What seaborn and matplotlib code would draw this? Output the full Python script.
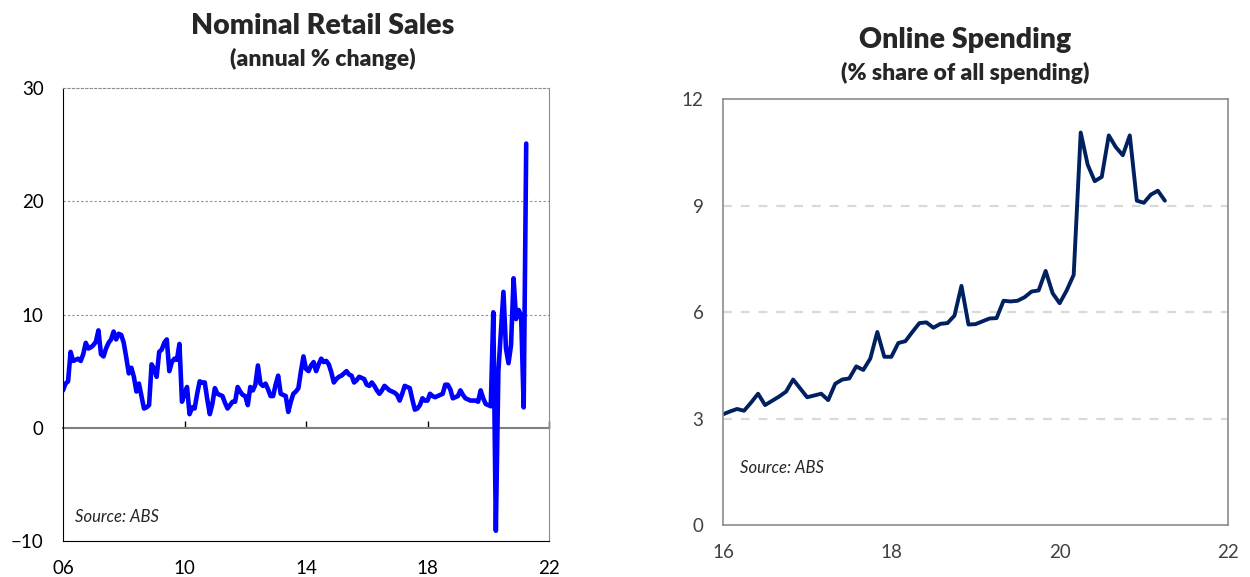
import numpy as np
import pandas as pd
import matplotlib
matplotlib.use("Agg")
import matplotlib.pyplot as plt
import seaborn as sns

# nominal retail sales, annual % change, monthly Jan 2006 - Apr 2021
retail_start = 2006
retail_pct = [
    3.3, 3.9, 4.1, 6.7, 5.9, 6.0, 6.1, 5.9, 6.5, 7.5, 7.0, 7.1,
    7.3, 7.6, 8.6, 6.5, 6.3, 7.0, 7.5, 7.8, 8.5, 7.8, 8.3, 8.2,
    7.5, 6.2, 4.8, 5.3, 4.5, 3.2, 3.9, 2.8, 1.7, 1.8, 2.0, 5.6,
    5.2, 4.5, 6.7, 6.9, 7.5, 7.8, 5.0, 5.8, 6.1, 6.0, 7.4, 2.3,
    3.0, 3.6, 1.2, 1.8, 1.7, 3.0, 4.1, 4.0, 4.0, 2.5, 1.2, 2.1,
    3.5, 3.0, 2.9, 2.8, 2.2, 1.7, 2.0, 2.3, 2.3, 3.6, 3.2, 2.9,
    2.8, 2.0, 3.6, 3.3, 3.8, 5.5, 3.9, 3.7, 3.9, 3.4, 2.8, 2.8,
    3.8, 4.6, 3.0, 2.9, 2.8, 1.4, 2.3, 3.0, 3.2, 3.5, 5.0, 6.3,
    5.2, 5.0, 5.5, 5.8, 5.0, 5.6, 6.1, 5.8, 5.9, 5.6, 4.9, 4.0,
    4.3, 4.5, 4.6, 4.8, 5.0, 4.7, 4.6, 4.0, 4.2, 4.5, 4.4, 4.3,
    3.8, 3.7, 4.0, 3.7, 3.3, 3.0, 3.3, 3.7, 3.5, 3.3, 3.2, 3.1,
    2.9, 2.4, 3.0, 3.7, 3.6, 3.5, 2.5, 1.6, 1.7, 2.0, 2.6, 2.4,
    2.4, 3.0, 2.8, 2.7, 2.8, 2.9, 3.0, 3.8, 3.8, 3.4, 2.6, 2.7,
    2.8, 3.3, 2.9, 2.6, 2.5, 2.4, 2.4, 2.4, 2.3, 3.3, 2.6, 2.1,
    2.0, 1.9, 10.2, -9.1, 5.0, 8.5, 12.0, 7.0, 5.7, 7.3, 13.2, 9.6,
    10.4, 9.9, 1.8, 25.1,
]

# online share of all spending (%), monthly Jan 2016 - Apr 2021
online_start = 2016
online_share = [
    3.12, 3.2, 3.27, 3.22, 3.45, 3.7, 3.38, 3.5, 3.62, 3.76, 4.1, 3.85,
    3.6, 3.65, 3.7, 3.52, 3.98, 4.1, 4.13, 4.47, 4.37, 4.69, 5.44, 4.74,
    4.74, 5.13, 5.18, 5.44, 5.69, 5.71, 5.56, 5.67, 5.69, 5.9, 6.74, 5.65,
    5.66, 5.74, 5.82, 5.83, 6.32, 6.3, 6.32, 6.42, 6.58, 6.61, 7.16, 6.53,
    6.25, 6.61, 7.05, 11.06, 10.15, 9.69, 9.81, 10.98, 10.65, 10.42, 10.98, 9.14,
    9.08, 9.31, 9.42, 9.14,
]

left_xticks = [2006, 2010, 2014, 2018, 2022]
right_xticks = [2016, 2018, 2020, 2022]

retail = pd.DataFrame({
    "year": retail_start + np.arange(len(retail_pct)) / 12,
    "pct": retail_pct,
})
online = pd.DataFrame({
    "year": online_start + np.arange(len(online_share)) / 12,
    "share": online_share,
})

sns.set_style("white")
plt.rcParams["font.family"] = ["Lato", "DejaVu Sans"]

fig = plt.figure(figsize=(12.5, 5.77), dpi=100)

# ---------- left panel ----------
ax1 = fig.add_axes([0.0504, 0.0624, 0.3888, 0.785])
sns.lineplot(data=retail, x="year", y="pct", ax=ax1, color="#0000FF", lw=3.3)
ax1.set_xlim(2006, 2022)
ax1.set_ylim(-10, 30)
ax1.set_yticks([-10, 0, 10, 20, 30])
ax1.set_xticks(left_xticks)
ax1.set_xticklabels([f"{t % 100:02d}" for t in left_xticks])
ax1.tick_params(axis="both", labelsize=13.5, colors="black", length=0)
ax1.tick_params(axis="x", pad=14)
ax1.tick_params(axis="y", pad=14)
ax1.set_xlabel("")
ax1.set_ylabel("")
for yv in [10, 20]:
    ax1.axhline(yv, color="#8c8c8c", lw=0.8, ls=(0, (2, 2)), zorder=0)
ax1.spines["top"].set_color("#8c8c8c")
ax1.spines["top"].set_linestyle((0, (2, 2)))
ax1.spines["top"].set_linewidth(0.8)
ax1.spines["right"].set_color("#8c8c8c")
ax1.spines["left"].set_color("black")
ax1.spines["bottom"].set_color("black")
# zero line with upward ticks
zero_ax = ax1.secondary_xaxis(0.25)
zero_ax.set_xticks(left_xticks[1:])
zero_ax.tick_params(direction="in", length=5, width=1, color="black", labelbottom=False)
zero_ax.spines["bottom"].set_color("#7f7f7f")
zero_ax.spines["bottom"].set_linewidth(1.5)
ax1.text(0.025, 0.035, "Source: ABS", transform=ax1.transAxes, fontsize=12,
         style="italic", ha="left", va="bottom")
fig.text(0.258, 0.955, "Nominal Retail Sales", ha="center", va="center",
         fontsize=20.5, fontweight="heavy")
fig.text(0.258, 0.898, "(annual % change)", ha="center", va="center",
         fontsize=16.5, fontweight="heavy")

# ---------- right panel ----------
ax2 = fig.add_axes([0.5784, 0.0901, 0.404, 0.738])
sns.lineplot(data=online, x="year", y="share", ax=ax2, color="#002060", lw=2.8)
ax2.set_xlim(2016, 2022)
ax2.set_ylim(0, 12)
ax2.set_yticks([0, 3, 6, 9, 12])
ax2.set_xticks(right_xticks)
ax2.set_xticklabels([f"{t % 100:02d}" for t in right_xticks])
ax2.tick_params(axis="y", labelsize=13.5, colors="#404040", length=0, pad=14)
ax2.tick_params(axis="x", labelsize=13.5, colors="#404040", length=4, direction="in",
                width=1, pad=14)
ax2.tick_params(axis="x", which="major", color="#7f7f7f")
ax2.set_xlabel("")
ax2.set_ylabel("")
for yv in [3, 6, 9]:
    ax2.axhline(yv, color="#d9d9d9", lw=1.6, ls=(0, (4, 4)), zorder=0)
for side in ["top", "right", "left", "bottom"]:
    ax2.spines[side].set_color("#8c8c8c")
    ax2.spines[side].set_linewidth(1.2)
ax2.text(0.034, 0.115, "Source: ABS", transform=ax2.transAxes, fontsize=12,
         style="italic", ha="left", va="bottom")
fig.text(0.772, 0.93, "Online Spending", ha="center", va="center",
         fontsize=20.5, fontweight="heavy")
fig.text(0.772, 0.873, "(% share of all spending)", ha="center", va="center",
         fontsize=16.5, fontweight="heavy")

fig.savefig("out.png", dpi=100)
